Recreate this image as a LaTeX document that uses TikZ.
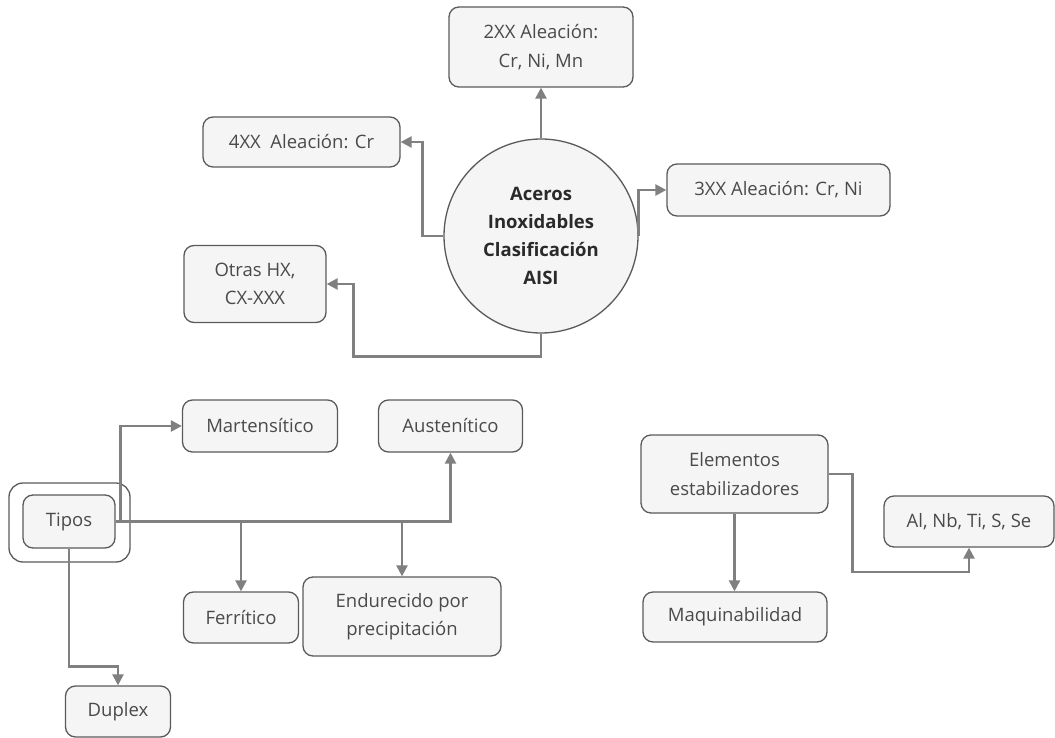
\documentclass[tikz,border=0pt]{standalone}
\usepackage{fontspec}
\setmainfont{Open Sans}
\usetikzlibrary{arrows.meta}
\definecolor{boxline}{HTML}{5A5A5A}
\definecolor{boxfill}{HTML}{F5F5F5}
\definecolor{conncol}{HTML}{808080}
\definecolor{txt}{HTML}{4A4A4A}
\definecolor{titletxt}{HTML}{2A2A2A}
\tikzset{
  box/.style={draw=boxline, fill=boxfill, line width=1.3pt, rounded corners=10pt,
    text=txt, align=center, inner sep=0pt, font=\fontsize{18.5}{28.5}\selectfont},
  conn/.style={draw=conncol, line width=2.4pt},
  arr/.style={conn, -{Triangle[length=11pt,width=11pt]}},
}
\begin{document}
\begin{tikzpicture}[x=1pt,y=-1pt]
\useasboundingbox (0,0) rectangle (1055,738);

% central topic and the AISI series
\node[draw=boxline, fill=boxfill, line width=1.3pt, circle, minimum size=194pt, inner sep=0pt,
      align=center, text=titletxt, font=\bfseries\fontsize{18.5}{27.7}\selectfont]
  (circ) at (541,236) {Aceros\\Inoxidables\\Clasificación\\AISI};
\node[box, minimum width=184pt, minimum height=80pt] (b2) at (541,47) {2XX Aleación:\\Cr, Ni, Mn};
\node[box, minimum width=197pt, minimum height=50pt] (b4) at (301.5,142) {4XX\ \ Aleación: Cr};
\node[box, minimum width=223pt, minimum height=52pt] (b3) at (778.5,190) {3XX Aleación: Cr, Ni};
\node[box, minimum width=142pt, minimum height=77pt] (otras) at (255,284) {Otras HX,\\CX-XXX};

\draw[arr] (circ.north) -- (b2.south);
\draw[arr] (circ.west) -- ++(-21,0) |- (b4.east);
\draw[arr] (circ.east) |- (b3.west);
\draw[arr] (circ.south) -- ++(0,23) -| ([xshift=27pt]otras.east) -- (otras.east);

% types
\node[draw=boxline, line width=1.3pt, rounded corners=14pt, minimum width=121pt, minimum height=79pt,
      inner sep=0pt] (tiposout) at (69.5,522.5) {};
\node[box, minimum width=92pt, minimum height=53pt] (tipos) at (69,521.5) {Tipos};
\node[box, minimum width=155pt, minimum height=52pt] (mart) at (260,426) {Martensítico};
\node[box, minimum width=144pt, minimum height=52pt] (aust) at (450.5,426) {Austenítico};
\node[box, minimum width=115pt, minimum height=51pt] (ferr) at (241,617.5) {Ferrítico};
\node[box, minimum width=198pt, minimum height=79pt] (endu) at (402,616.5) {Endurecido por\\precipitación};
\node[box, minimum width=105pt, minimum height=51pt] (dup) at (118,711.5) {Duplex};

\draw[arr] ([xshift=5pt]tipos.east) |- (mart.west);
\draw[arr] (tipos.east) -| (aust.south);
\draw[arr] (tipos.east -| ferr.north) -- (ferr.north);
\draw[arr] (tipos.east -| endu.north) -- (endu.north);
\draw[arr] (tipos.south) -- ++(0,118) -| (dup.north);

% stabilising elements
\node[box, minimum width=187pt, minimum height=78pt] (elem) at (734.5,474) {Elementos\\estabilizadores};
\node[box, minimum width=184pt, minimum height=50pt] (maq) at (735,617) {Maquinabilidad};
\node[box, minimum width=170pt, minimum height=51pt] (al) at (969,521.5) {Al, Nb, Ti, S, Se};

\draw[arr] (elem.south) -- (elem.south |- maq.north);
\draw[arr] (elem.east) -- ++(24,0) -- ++(0,98) -| (al.south);
\end{tikzpicture}
\end{document}
